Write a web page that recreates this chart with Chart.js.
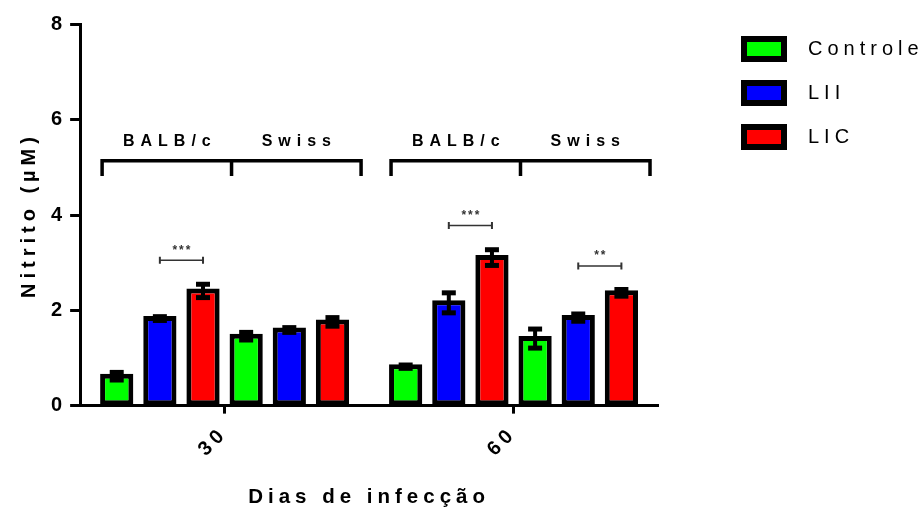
<!DOCTYPE html>
<html>
<head>
<meta charset="utf-8">
<script src="https://cdn.jsdelivr.net/npm/chart.js@4.4.1/dist/chart.umd.min.js"></script>
<style>
  html, body { margin: 0; padding: 0; background: #fff; }
</style>
</head>
<body>
<canvas id="grafico" width="923" height="514"></canvas>
<script>
const dias = ['30', '60'];
const grupos = ['Controle', 'LII', 'LIC'];
const linhagens = ['BALB/c', 'Swiss'];
const cores = ['#00ff00', '#0000ff', '#ff0000'];

// media (uM) por dia de infeccao: [30, 60]
const balbControle = [0.67, 0.87];
const balbLII = [1.88, 2.21];
const balbLIC = [2.46, 3.16];
const swissControle = [1.51, 1.46];
const swissLII = [1.64, 1.90];
const swissLIC = [1.81, 2.42];

// erro padrao
const balbControleEP = [0.08, 0.035];
const balbLIIEP = [0.04, 0.21];
const balbLICEP = [0.14, 0.165];
const swissControleEP = [0.08, 0.2];
const swissLIIEP = [0.05, 0.076];
const swissLICEP = [0.09, 0.07];

// comparacoes: dia, barra de / ate, altura, rotulo
const sigDia = [0, 1, 1];
const sigDe = [1, 1, 4];
const sigAte = [2, 2, 5];
const sigNivel = [3.05, 3.78, 2.93];
const sigRotulo = ['***', '***', '**'];

const series = [
  { nome: 'BALB/c Controle', grupo: 0, valores: balbControle, erro: balbControleEP },
  { nome: 'BALB/c LII', grupo: 1, valores: balbLII, erro: balbLIIEP },
  { nome: 'BALB/c LIC', grupo: 2, valores: balbLIC, erro: balbLICEP },
  { nome: 'Swiss Controle', grupo: 0, valores: swissControle, erro: swissControleEP },
  { nome: 'Swiss LII', grupo: 1, valores: swissLII, erro: swissLIIEP },
  { nome: 'Swiss LIC', grupo: 2, valores: swissLIC, erro: swissLICEP },
];

const FONTE = "'Liberation Sans', Arial, sans-serif";
Chart.defaults.font.family = FONTE;
Chart.defaults.color = '#000';

// swatch da legenda (moldura preta grossa)
function amostra(cor) {
  const c = document.createElement('canvas');
  c.width = 116; c.height = 26;
  const g = c.getContext('2d');
  g.fillStyle = '#000';
  g.fillRect(59, 0, 46, 26);
  g.fillStyle = cor;
  g.fillRect(65, 6, 34, 14);
  return c;
}
const amostras = cores.map(amostra);

const LARGURA_LEGENDA = 265;

const espacamento = {
  id: 'espacamento',
  beforeUpdate(chart) { chart.ctx.letterSpacing = '5px'; },
  beforeLayout(chart) {
    chart.ctx.letterSpacing = '5px';
    // measureText ignora o letterSpacing: fixa a largura da legenda
    const leg = chart.legend;
    if (leg && !leg._larguraFixa) {
      const fit = leg.fit;
      leg.fit = function () { fit.call(this); this.width = LARGURA_LEGENDA; };
      leg._larguraFixa = true;
    }
  },
  beforeDraw(chart) { chart.ctx.letterSpacing = '5px'; },
};

const barrasErro = {
  id: 'barrasErro',
  afterDatasetsDraw(chart) {
    const { ctx, scales: { y } } = chart;
    ctx.save();
    ctx.strokeStyle = '#000';
    ctx.lineCap = 'butt';
    series.forEach((s, d) => {
      chart.getDatasetMeta(d).data.forEach((bar, i) => {
        const v = s.valores[i], e = s.erro[i];
        const topo = y.getPixelForValue(v + e) + 2.5;
        const base = y.getPixelForValue(v - e) + 2.5;
        ctx.lineWidth = 4;
        ctx.beginPath();
        ctx.moveTo(bar.x, topo);
        ctx.lineTo(bar.x, base);
        ctx.stroke();
        ctx.lineWidth = 5;
        [topo, base].forEach(yy => {
          ctx.beginPath();
          ctx.moveTo(bar.x - 7, yy);
          ctx.lineTo(bar.x + 7, yy);
          ctx.stroke();
        });
      });
    });
    ctx.restore();
  },
};

const chaves = {
  id: 'chaves',
  afterDatasetsDraw(chart) {
    const { ctx, scales: { y } } = chart;
    const yLinha = y.getPixelForValue(5.14);
    const yPerna = y.getPixelForValue(4.82);
    const yRot = y.getPixelForValue(5.55);
    ctx.save();
    ctx.strokeStyle = '#000';
    ctx.fillStyle = '#000';
    ctx.lineWidth = 3.5;
    ctx.lineCap = 'butt';
    ctx.lineJoin = 'miter';
    dias.forEach((_, i) => {
      const b0 = chart.getDatasetMeta(0).data[i];
      const b3 = chart.getDatasetMeta(3).data[i];
      const b5 = chart.getDatasetMeta(5).data[i];
      const xa = b0.x - b0.width / 2 + 2;
      const xb = b3.x - b3.width / 2 + 2;
      const xc = b5.x + b5.width / 2 + 12;
      ctx.beginPath();
      ctx.moveTo(xa, yPerna);
      ctx.lineTo(xa, yLinha);
      ctx.lineTo(xc, yLinha);
      ctx.lineTo(xc, yPerna);
      ctx.moveTo(xb, yLinha);
      ctx.lineTo(xb, yPerna);
      ctx.stroke();
      ctx.font = `bold 16px ${FONTE}`;
      ctx.letterSpacing = '6px';
      ctx.textAlign = 'center';
      ctx.textBaseline = 'middle';
      ctx.fillText(linhagens[0], (xa + xb) / 2 + 3, yRot);
      ctx.fillText(linhagens[1], (xb + xc) / 2 + 3, yRot);
    });

    // comparacoes estatisticas
    ctx.strokeStyle = '#333';
    ctx.fillStyle = '#333';
    sigDia.forEach((dia, k) => {
      const a = chart.getDatasetMeta(sigDe[k]).data[dia];
      const b = chart.getDatasetMeta(sigAte[k]).data[dia];
      const yy = y.getPixelForValue(sigNivel[k]);
      ctx.lineWidth = 1.5;
      ctx.beginPath();
      ctx.moveTo(a.x, yy);
      ctx.lineTo(b.x, yy);
      ctx.stroke();
      ctx.lineWidth = 2;
      ctx.beginPath();
      ctx.moveTo(a.x, yy - 3.5);
      ctx.lineTo(a.x, yy + 3.5);
      ctx.moveTo(b.x, yy - 3.5);
      ctx.lineTo(b.x, yy + 3.5);
      ctx.stroke();
      ctx.font = `bold 12px ${FONTE}`;
      ctx.letterSpacing = '2px';
      ctx.fillText(sigRotulo[k], (a.x + b.x) / 2 + 1, yy - 10);
    });
    ctx.restore();
  },
};

new Chart(document.getElementById('grafico'), {
  type: 'bar',
  data: {
    labels: dias,
    datasets: series.map(s => ({
      label: s.nome,
      data: s.valores,
      backgroundColor: cores[s.grupo],
      borderColor: '#000',
      borderWidth: 5,
      borderSkipped: false,
      categoryPercentage: 0.896,
      barPercentage: 0.77,
    })),
  },
  options: {
    responsive: false,
    animation: false,
    layout: { padding: { left: 16, top: 15, right: 0, bottom: 0 } },
    scales: {
      x: {
        offset: true,
        grid: {
          offset: false,
          drawOnChartArea: false,
          tickLength: 8,
          tickWidth: 3,
          tickColor: '#000',
        },
        border: { color: '#000', width: 3 },
        ticks: {
          minRotation: 45,
          maxRotation: 45,
          padding: 8,
          font: { size: 20, weight: 'bold' },
        },
        title: {
          display: true,
          text: 'Dias de infecção',
          font: { size: 20.5, weight: 'bold' },
          padding: { top: 16, bottom: 4 },
        },
      },
      y: {
        min: 0,
        max: 8,
        afterFit(scale) { scale.paddingTop = 24.5; },
        grid: {
          drawOnChartArea: false,
          tickLength: 10,
          tickWidth: 3,
          tickColor: '#000',
        },
        border: { color: '#000', width: 3 },
        ticks: {
          stepSize: 2,
          padding: 3,
          font: { size: 20, weight: 'bold' },
        },
        title: {
          display: true,
          text: 'Nitrito (µM)',
          font: { size: 20, weight: 'bold' },
          padding: { top: 1, bottom: 7 },
        },
      },
    },
    plugins: {
      legend: {
        position: 'right',
        align: 'start',
        onClick: () => {},
        labels: {
          usePointStyle: true,
          pointStyleWidth: 116,
          padding: 24,
          font: { size: 20 },
          color: '#000',
          generateLabels: () => grupos.map((g, i) => ({
            text: g,
            pointStyle: amostras[i],
            fillStyle: cores[i],
            strokeStyle: '#000',
            lineWidth: 0,
            hidden: false,
            datasetIndex: i,
          })),
        },
      },
      tooltip: { enabled: false },
    },
  },
  plugins: [espacamento, barrasErro, chaves],
});
</script>
</body>
</html>
